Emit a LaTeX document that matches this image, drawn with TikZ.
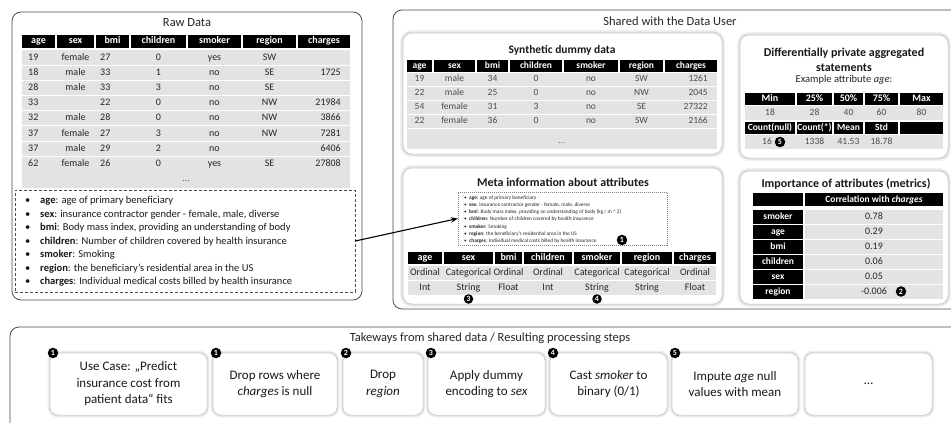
\documentclass[tikz,border=0pt]{standalone}
\usepackage{fontspec}
\setmainfont{Carlito}
\usetikzlibrary{arrows.meta}
\begin{document}
\begin{tikzpicture}[x=1pt,y=-1pt,
  frame/.style={draw=black!70, line width=0.8pt, rounded corners=9pt},
  card/.style={draw=black!22, fill=white, line width=0.5pt, rounded corners=9pt, inner sep=0pt,
    preaction={draw=black!6, line width=6pt},
    preaction={draw=black!13, line width=3pt}},
  bigtitle/.style={font=\fontsize{12.5}{14}\selectfont, text=black!85, inner sep=0pt},
  cardtitle/.style={font=\fontsize{12}{15}\selectfont\bfseries, text=black!90, inner sep=0pt, align=center},
  hdr/.style={fill=black, text=white, font=\fontsize{10}{12}\selectfont\bfseries, inner sep=0pt, text height=7pt, text depth=2pt},
  rowbg/.style={fill=black!11, inner sep=0pt},
  cell/.style={font=\fontsize{10}{12}\selectfont, text=black!85, inner sep=0pt, text height=7pt, text depth=2pt},
  scell/.style={font=\fontsize{9.5}{11}\selectfont, text=black!70, inner sep=0pt, text height=6.5pt, text depth=2pt},
  badge/.style={circle, fill=black, text=white, font=\fontsize{8}{8}\selectfont\bfseries, inner sep=0pt, minimum size=10.5pt},
  listitem/.style={anchor=west, font=\fontsize{10.5}{12}\selectfont, text=black!90, inner sep=0pt, text height=7.5pt, text depth=2pt},
  tinyitem/.style={anchor=west, font=\fontsize{5.3}{6}\selectfont, text=black!85, inner sep=0pt, text height=4pt, text depth=1pt},
  stepbox/.style={draw=black!20, fill=white, line width=0.5pt, rounded corners=8pt, align=center,
    font=\fontsize{13}{16.5}\selectfont, text=black!90, minimum height=62pt, inner sep=0pt,
    preaction={draw=black!6, line width=5pt},
    preaction={draw=black!13, line width=2.5pt}},
]
\useasboundingbox (0,0) rectangle (951,423);
\fill[white] (0,0) rectangle (951,423);

% ================= RAW DATA =================
\node[draw=black!70, line width=0.8pt, rounded corners=9pt, minimum width=350pt, minimum height=288pt, inner sep=0pt] (rawframe) at (187,156) {};
\node[bigtitle] (rawtitle) at (187,23) {Raw Data};
\foreach \cx/\w/\t [count=\j] in {38.5/33/age, 75.5/37/sex, 112.5/33/bmi, 158.5/55/children, 214.5/53/smoker, 269.5/53/region, 324/52/charges}
  \node[hdr, minimum width=\w pt, minimum height=13pt] (rawh\j) at (\cx,41) {\t};
\foreach \va/\vs/\vb/\vc/\vm/\vr/\vch [count=\i] in {19/female/27/0/yes/SW/{}, 18/male/33/1/no/SE/1725, 28/male/33/3/no/SE/{}, 33/{}/22/0/no/NW/21984, 32/male/28/0/no/NW/3866, 37/female/27/3/no/NW/7281, 37/male/29/2/no/{}/6406, 62/female/26/0/yes/SE/27808} {
  \pgfmathsetmacro\yy{57.5+15.2*(\i-1)}
  \node[rowbg, minimum width=328pt, minimum height=14.2pt] (rawrow\i) at (186,\yy) {};
  \node[cell, anchor=west] (rawa\i) at (28,\yy) {\va};
  \node[cell] (raws\i) at (75.5,\yy) {\vs};
  \node[cell, anchor=west] (rawb\i) at (100,\yy) {\vb};
  \node[cell] (rawc\i) at (158.5,\yy) {\vc};
  \node[cell] (rawm\i) at (214.5,\yy) {\vm};
  \node[cell] (rawr\i) at (269.5,\yy) {\vr};
  \node[cell, anchor=east] (rawch\i) at (341,\yy) {\vch};
}
\node[rowbg, minimum width=328pt, minimum height=17pt] (rawdots) at (186,179.5) {};
\node[cell, text=black!60] (rawdotst) at (186,179) {…};

\node[draw=black!70, dash pattern=on 3pt off 2pt, line width=0.6pt, minimum width=340pt, minimum height=102pt, inner sep=0pt] (rawdesc) at (185,241) {};
\foreach \k in {0,...,6} {
  \pgfmathsetmacro\yy{201+13.5*\k}
  \node[listitem] (rawbul\k) at (25,\yy) {•};
}
\node[listitem] (rawd0) at (40,201) {\textbf{age}: age of primary beneficiary};
\node[listitem] (rawd1) at (40,214.5) {\textbf{sex}: insurance contractor gender - female, male, diverse};
\node[listitem] (rawd2) at (40,228) {\textbf{bmi}: Body mass index, providing an understanding of body};
\node[listitem] (rawd3) at (40,241.5) {\textbf{children}: Number of children covered by health insurance};
\node[listitem] (rawd4) at (40,255) {\textbf{smoker}: Smoking};
\node[listitem] (rawd5) at (40,268.5) {\textbf{region}: the beneficiary’s residential area in the US};
\node[listitem] (rawd6) at (40,282) {\textbf{charges}: Individual medical costs billed by health insurance};

% ================= SHARED =================
\draw[frame] (951,10) -- (393,10) -- (393,309) -- (951,309);
\node[bigtitle] (sharedtitle) at (670,21) {Shared with the Data User};

% ---- synthetic
\node[card, minimum width=319pt, minimum height=121pt] (syncard) at (562.5,93.5) {};
\node[cardtitle, font=\fontsize{11.5}{14}\selectfont\bfseries] (syntitle) at (562,50) {Synthetic dummy data};
\foreach \cx/\w/\t [count=\j] in {419.5/25/age, 454.5/41/sex, 492.5/31/bmi, 536/52/children, 591/54/smoker, 641.5/43/region, 691/52/charges}
  \node[hdr, font=\fontsize{9.5}{11}\selectfont\bfseries, minimum width=\w pt, minimum height=12pt] (synh\j) at (\cx,66) {\t};
\foreach \va/\vs/\vb/\vc/\vm/\vr/\vch [count=\i] in {19/male/34/0/no/SW/1261, 22/male/25/0/no/NW/2045, 54/female/31/3/no/SE/27322, 22/female/36/0/no/SW/2166} {
  \pgfmathsetmacro\yy{79.5+14*(\i-1)}
  \node[rowbg, minimum width=310pt, minimum height=13pt] (synrow\i) at (562,\yy) {};
  \node[scell] (syna\i) at (419.5,\yy) {\va};
  \node[scell] (syns\i) at (454.5,\yy) {\vs};
  \node[scell] (synb\i) at (492.5,\yy) {\vb};
  \node[scell] (sync\i) at (536,\yy) {\vc};
  \node[scell] (synm\i) at (591,\yy) {\vm};
  \node[scell] (synr\i) at (641.5,\yy) {\vr};
  \node[scell, anchor=east] (synch\i) at (708,\yy) {\vch};
}
\node[rowbg, minimum width=310pt, minimum height=20pt] (syndots) at (562,139) {};
\node[scell, text=black!55] (syndotst) at (562,141) {…};

% ---- DP aggregated
\node[card, minimum width=208pt, minimum height=123pt] (dpcard) at (844,96.5) {};
\node[cardtitle] (dptitle) at (844,59.5) {Differentially private aggregated\\statements};
\node[cell, font=\fontsize{10.5}{12}\selectfont] (dpsub) at (844,80) {Example attribute \textit{age}:};
\foreach \cx/\w/\t [count=\j] in {770/50/Min, 814.5/35/25\%, 848.5/29/50\%, 881.5/33/75\%, 921.5/43/Max}
  \node[hdr, minimum width=\w pt, minimum height=12pt] (dph\j) at (\cx,99) {\t};
\node[rowbg, minimum width=198pt, minimum height=14pt] (dprow1) at (844,113) {};
\foreach \cx/\t [count=\j] in {770/18, 814.5/28, 848.5/40, 881.5/60, 921.5/80}
  \node[scell] (dpv\j) at (\cx,113) {\t};
\foreach \cx/\w/\t [count=\j] in {770/50/Count(null), 814.5/35/Count(*), 848.5/29/Mean, 881.5/33/Std, 921.5/43/{}}
  \node[hdr, font=\fontsize{9.5}{11}\selectfont\bfseries, minimum width=\w pt, minimum height=12pt] (dpk\j) at (\cx,127.5) {\t};
\node[rowbg, minimum width=198pt, minimum height=14pt] (dprow2) at (844,142) {};
\node[scell] (dpw1) at (767,142) {16};
\node[badge] (dpbadge5) at (780,142) {5};
\foreach \cx/\t [count=\j] in {814.5/1338, 848.5/41.53, 881.5/18.78}
  \node[scell] (dpw\j x) at (\cx,142) {\t};

% ---- meta information
\node[card, minimum width=319pt, minimum height=136pt] (metacard) at (562.5,236) {};
\node[cardtitle] (metatitle) at (563,182) {Meta information about attributes};
\node[draw=black!50, dash pattern=on 1pt off 1pt, line width=0.4pt, minimum width=209pt, minimum height=53pt, inner sep=0pt] (metadesc) at (562.5,218.5) {};
\foreach \k in {0,...,6} {
  \pgfmathsetmacro\yy{197.5+7.3*\k}
  \node[tinyitem] (metabul\k) at (464,\yy) {•};
}
\node[tinyitem] (metad0) at (469,197.5) {\textbf{age}: age of primary beneficiary};
\node[tinyitem] (metad1) at (469,204.8) {\textbf{sex}: insurance contractor gender - female, male, diverse};
\node[tinyitem] (metad2) at (469,212.1) {\textbf{bmi}: Body mass index, providing an understanding of body (kg / m \^{} 2)};
\node[tinyitem] (metad3) at (469,219.4) {\textbf{children}: Number of children covered by health insurance};
\node[tinyitem] (metad4) at (469,226.7) {\textbf{smoker}: Smoking};
\node[tinyitem] (metad5) at (469,234) {\textbf{region}: the beneficiary’s residential area in the US};
\node[tinyitem] (metad6) at (469,241.3) {\textbf{charges}: Individual medical costs billed by health insurance};
\node[badge] (metabadge1) at (622,240) {1};
\foreach \cx/\w/\t [count=\j] in {425/34/age, 468.5/49/sex, 508.5/27/bmi, 548/48/children, 597/46/smoker, 647/50/region, 695/42/charges}
  \node[hdr, minimum width=\w pt, minimum height=12pt] (metah\j) at (\cx,258) {\t};
\node[rowbg, minimum width=308pt, minimum height=14pt] (metarow1) at (562,272.5) {};
\node[rowbg, minimum width=308pt, minimum height=14pt] (metarow2) at (562,287.5) {};
\foreach \cx/\ta/\tb [count=\j] in {425/Ordinal/Int, 468.5/Categorical/String, 508.5/Ordinal/Float, 548/Ordinal/Int, 597/Categorical/String, 647/Categorical/String, 695/Ordinal/Float} {
  \node[cell] (metaa\j) at (\cx,272.5) {\ta};
  \node[cell] (metab\j) at (\cx,287.5) {\tb};
}
\node[badge, minimum size=9.5pt] (metabadge3) at (468.5,299) {3};
\node[badge, minimum size=9.5pt] (metabadge4) at (597,299) {4};

% ---- importance
\node[card, minimum width=208pt, minimum height=133pt] (impcard) at (844,237.5) {};
\node[cardtitle] (imptitle) at (846,184) {Importance of attributes (metrics)};
\node[hdr, minimum width=50pt, minimum height=13pt] (imph1) at (778,199.5) {};
\node[hdr, font=\fontsize{9.5}{11}\selectfont\bfseries, minimum width=138pt, minimum height=13pt] (imph2) at (874,199.5) {Correlation with \textit{charges}};
\foreach \t/\v [count=\i] in {smoker/0.78, age/0.29, bmi/0.19, children/0.06, sex/0.05, region/-0.006} {
  \pgfmathsetmacro\yy{216.5+15*(\i-1)}
  \node[hdr, font=\fontsize{9.5}{11}\selectfont\bfseries, minimum width=50pt, minimum height=14pt] (impk\i) at (778,\yy) {\t};
  \node[rowbg, minimum width=138pt, minimum height=14pt] (impr\i) at (874,\yy) {};
  \node[cell] (impv\i) at (874,\yy) {\v};
}
\node[badge] (impbadge2) at (901,291.5) {2};

% ---- arrow
\draw[-{Stealth[length=7pt,width=5.5pt]}, line width=1.1pt] (rawdesc.east) -- (metadesc.west);

% ================= TAKEAWAYS =================
\draw[frame] (951,327) -- (10,327) -- (10,423);
\node[bigtitle] (taketitle) at (490,338) {Takeways from shared data / Resulting processing steps};

\node[stepbox, minimum width=157pt] (s1) at (128.5,384) {Use Case: „Predict\\insurance cost from\\patient data“ fits};
\node[stepbox, minimum width=124pt] (s2) at (275,384) {Drop rows where\\\textit{charges} is null};
\node[stepbox, minimum width=80pt] (s3) at (383,384) {Drop\\\textit{region}};
\node[stepbox, minimum width=117pt] (s4) at (486.5,384) {Apply dummy\\encoding to \textit{sex}};
\node[stepbox, minimum width=117pt] (s5) at (608.5,384) {Cast \textit{smoker} to\\binary (0/1)};
\node[stepbox, minimum width=126pt] (s6) at (735,384) {Impute \textit{age} null\\values with mean};
\node[stepbox, minimum width=127pt] (s7) at (868.5,384) {…};

\node[badge] (s1b) at (53,353) {1};
\node[badge] (s2b) at (216,353) {1};
\node[badge] (s3b) at (346,353) {2};
\node[badge] (s4b) at (431,353) {3};
\node[badge] (s5b) at (553,353) {4};
\node[badge] (s6b) at (675,353) {5};
\end{tikzpicture}
\end{document}
